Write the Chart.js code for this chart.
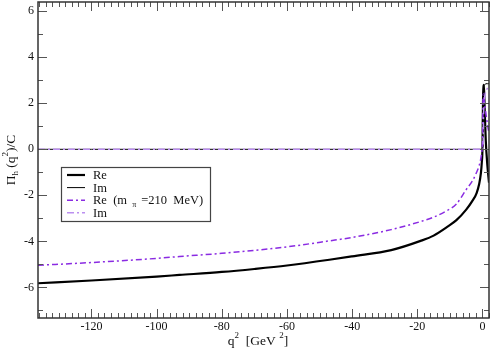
<!DOCTYPE html>
<html>
<head>
<meta charset="utf-8">
<script src="https://cdn.jsdelivr.net/npm/chart.js@4.4.1/dist/chart.umd.min.js"></script>
<style>
  html, body { margin: 0; padding: 0; background: #fff; }
  #wrap { width: 491px; height: 352px; }
</style>
</head>
<body>
<div id="wrap"><canvas id="piChart" width="491" height="352"></canvas></div>
<script>
const SERIF = "'Liberation Serif', 'Times New Roman', serif";

// q^2 in GeV^2
const qValues = [-136.4, -120, -100, -93, -80, -70, -60, -47, -40, -28, -19, -15, -10.6, -8, -5, -3, -1.8, -1, -0.5, -0.2, 0, 0.078, 0.176, 0.3, 0.45, 0.7, 1, 1.5, 2];

// physical pion mass
const reLight = [-5.82, -5.70, -5.53, -5.46, -5.33, -5.20, -5.05, -4.80, -4.65, -4.38, -3.98, -3.75, -3.35, -3.08, -2.62, -2.22, -1.90, -1.50, -1.05, -0.55, 0.10, 1.20, 2.20, 2.70, 2.80, 1.60, 0.40, -0.70, -1.45];
const imLight = [0, 0, 0, 0, 0, 0, 0, 0, 0, 0, 0, 0, 0, 0, 0, 0, 0, 0, 0, 0, 0, 0, 2.00, 2.55, 2.75, 2.80, 2.85, 2.85, 2.85];

// m_pi = 210 MeV
const reHeavy = [-5.04, -4.92, -4.74, -4.66, -4.52, -4.39, -4.24, -3.98, -3.83, -3.49, -3.14, -2.95, -2.64, -2.38, -1.75, -1.35, -1.00, -0.70, -0.40, -0.10, 0.30, 0.90, 2.30, 2.40, 2.20, 1.90, 1.60, 1.10, 0.70];
const imHeavy = [0, 0, 0, 0, 0, 0, 0, 0, 0, 0, 0, 0, 0, 0, 0, 0, 0, 0, 0, 0, 0, 0, 0, 1.30, 1.90, 2.30, 2.50, 2.65, 2.75];

const xTickValues = [-120, -100, -80, -60, -40, -20, 0];
const yTickValues = [-6, -4, -2, 0, 2, 4, 6];

const toPoints = (ys) => ys.map((y, i) => ({ x: qValues[i], y }));

// draws a run of text pieces (size, vertical shift) starting at x
function drawPieces(ctx, pieces, x, y, align) {
  let total = 0;
  pieces.forEach((p) => {
    ctx.font = `${p.size}px ${SERIF}`;
    p.w = ctx.measureText(p.t).width;
    total += p.w;
  });
  let cx = align === "center" ? x - total / 2 : x;
  ctx.textAlign = "left";
  ctx.textBaseline = "alphabetic";
  pieces.forEach((p) => {
    ctx.font = `${p.size}px ${SERIF}`;
    ctx.fillText(p.t, cx, y + (p.dy || 0));
    cx += p.w;
  });
}

const legendRows = [
  { parts: [{ t: "Re", size: 12.5 }] },
  { parts: [{ t: "Im", size: 12.5 }] },
  { parts: [{ t: "Re  (m ", size: 12.5 }, { t: " \u03c0 ", size: 8, dy: 3 }, { t: " =210  MeV)", size: 12.5 }] },
  { parts: [{ t: "Im", size: 12.5 }] }
];

const decorPlugin = {
  id: "decor",
  afterDraw(chart) {
    const { ctx, chartArea: a, scales } = chart;
    const xs = scales.x, ys = scales.y;
    ctx.save();

    // inward ticks on all four sides
    ctx.strokeStyle = "#555";
    ctx.lineWidth = 1;
    ctx.beginPath();
    for (let v = Math.ceil(xs.min / 2) * 2; v <= xs.max; v += 2) {
      const px = Math.round(xs.getPixelForValue(v)) + 0.5;
      const len = v % 20 === 0 ? 9 : 5;
      ctx.moveTo(px, a.bottom); ctx.lineTo(px, a.bottom - len);
      ctx.moveTo(px, a.top); ctx.lineTo(px, a.top + len);
    }
    for (let v = Math.ceil(ys.min); v <= ys.max; v += 1) {
      const py = Math.round(ys.getPixelForValue(v)) + 0.5;
      const len = v % 2 === 0 ? 9 : 5;
      ctx.moveTo(a.left, py); ctx.lineTo(a.left + len, py);
      ctx.moveTo(a.right, py); ctx.lineTo(a.right - len, py);
    }
    ctx.stroke();

    // frame
    ctx.strokeStyle = "#333";
    ctx.lineWidth = 1.5;
    ctx.strokeRect(a.left, a.top, a.right - a.left, a.bottom - a.top);

    // legend box
    const bx = 61, by = 167, bw = 149, bh = 54;
    ctx.fillStyle = "#fff";
    ctx.fillRect(bx, by, bw, bh);
    ctx.strokeStyle = "#444";
    ctx.lineWidth = 1.2;
    ctx.strokeRect(bx + 0.5, by + 0.5, bw, bh);
    chart.data.datasets.forEach((ds, i) => {
      const ry = by + 8 + i * 12.6;
      ctx.beginPath();
      ctx.strokeStyle = ds.borderColor;
      ctx.lineWidth = ds.borderWidth;
      ctx.setLineDash(ds.borderDash || []);
      ctx.moveTo(67, ry); ctx.lineTo(85, ry);
      ctx.stroke();
      ctx.setLineDash([]);
      ctx.fillStyle = "#111";
      drawPieces(ctx, legendRows[i].parts, 93, ry + 4, "left");
    });

    // axis titles
    ctx.fillStyle = "#111";
    drawPieces(ctx, [
      { t: "q", size: 13.5 }, { t: "2", size: 9, dy: -7 },
      { t: "  [GeV ", size: 13.5 }, { t: "2", size: 9, dy: -7 }, { t: "]", size: 13.5 }
    ], 258, 345, "center");

    ctx.translate(15, (a.top + a.bottom) / 2);
    ctx.rotate(-Math.PI / 2);
    drawPieces(ctx, [
      { t: "\u03a0", size: 13.5 }, { t: "h", size: 9, dy: 3 },
      { t: " (q", size: 13.5 }, { t: "2", size: 9, dy: -7 }, { t: ")/C", size: 13.5 }
    ], 0, 0, "center");

    ctx.restore();
  }
};

new Chart(document.getElementById("piChart"), {
  type: "line",
  data: {
    datasets: [
      {
        label: "Re",
        data: toPoints(reLight),
        borderColor: "#000",
        borderWidth: 2.2,
        order: 3
      },
      {
        label: "Im",
        data: toPoints(imLight),
        borderColor: "#000",
        borderWidth: 1,
        order: 2
      },
      {
        label: "Re (m_pi = 210 MeV)",
        data: toPoints(reHeavy),
        borderColor: "#8a2be2",
        borderWidth: 1.5,
        borderDash: [6, 3, 2, 3],
        order: 1
      },
      {
        label: "Im (m_pi = 210 MeV)",
        data: toPoints(imHeavy),
        borderColor: "#bb8ff0",
        borderWidth: 1.5,
        borderDash: [7, 3, 2, 3],
        order: 0
      }
    ]
  },
  options: {
    responsive: false,
    animation: false,
    layout: { padding: { top: 2, right: 2, left: 0, bottom: 0 } },
    elements: {
      point: { radius: 0 },
      line: { tension: 0, cubicInterpolationMode: "monotone", fill: false }
    },
    plugins: {
      legend: { display: false },
      tooltip: { enabled: false }
    },
    scales: {
      x: {
        type: "linear",
        min: -136.4,
        max: 2,
        grid: { display: false, drawTicks: false },
        border: { display: false },
        afterBuildTicks: (axis) => { axis.ticks = xTickValues.map((v) => ({ value: v })); },
        afterFit: (axis) => { axis.height = 34; axis.paddingLeft = 0; axis.paddingRight = 0; },
        ticks: {
          color: "#111",
          padding: 2,
          maxRotation: 0,
          font: { family: SERIF, size: 12 }
        }
      },
      y: {
        min: -7.33,
        max: 6.4,
        grid: { display: false, drawTicks: false },
        border: { display: false },
        afterBuildTicks: (axis) => { axis.ticks = yTickValues.map((v) => ({ value: v })); },
        afterFit: (axis) => { axis.width = 38; axis.paddingTop = 0; axis.paddingBottom = 0; },
        ticks: {
          color: "#111",
          padding: 4,
          font: { family: SERIF, size: 12 }
        }
      }
    }
  },
  plugins: [decorPlugin]
});
</script>
</body>
</html>
